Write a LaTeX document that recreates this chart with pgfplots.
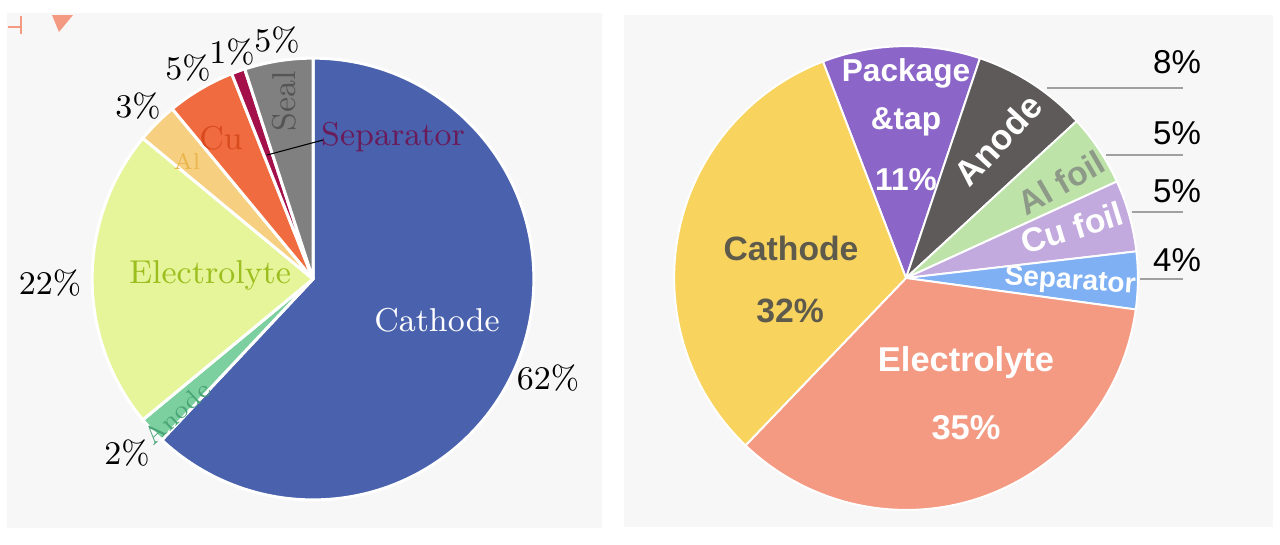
\documentclass[border=0pt]{standalone}
\usepackage{fontspec}
\usepackage{pgfplots}
\usepackage{pgfplotstable}
\pgfplotsset{compat=1.18}
\newfontfamily\arial{Liberation Sans}

% left pie colours
\definecolor{lcath}{HTML}{4A62AD}
\definecolor{lanode}{HTML}{7CCF9E}
\definecolor{lelec}{HTML}{E6F59A}
\definecolor{lal}{HTML}{F6CF80}
\definecolor{lcu}{HTML}{F06C40}
\definecolor{lsep}{HTML}{A3104A}
\definecolor{lseal}{HTML}{808080}
% right pie colours
\definecolor{rpack}{HTML}{8B65C7}
\definecolor{ranode}{HTML}{5E5A5A}
\definecolor{ral}{HTML}{BDE3A9}
\definecolor{rcu}{HTML}{C2A9DE}
\definecolor{rsep}{HTML}{7FB0F4}
\definecolor{relec}{HTML}{F49A82}
\definecolor{rcath}{HTML}{F8D35E}
\definecolor{panel}{HTML}{F7F7F7}
\definecolor{telec}{RGB}{156,190,30}
\definecolor{tanode}{RGB}{74,165,119}
\definecolor{tal}{RGB}{234,181,74}
\definecolor{tcu}{RGB}{217,74,31}
\definecolor{tseal}{RGB}{85,85,85}
\definecolor{tsep}{RGB}{106,27,90}
\definecolor{talfoil}{RGB}{142,154,136}
\definecolor{tcath}{RGB}{95,91,76}
\definecolor{leader}{RGB}{160,160,160}

% percentages, clockwise
\pgfplotstableread{
pct col
62 lcath
2  lanode
22 lelec
3  lal
5  lcu
1  lsep
5  lseal
}\lefttable
\pgfplotstableread{
pct col
11 rpack
8  ranode
5  ral
5  rcu
4  rsep
35 relec
32 rcath
}\righttable

% #1 cx, #2 cy (px), #3 radius (px), #4 percent, #5 colour, #6 border width
\newcommand\pieslice[6]{%
  \pgfmathsetmacro\aend{\astart-3.6*#4}%
  \pgfmathsetmacro\rr{#3*0.01}%
  \edef\tmp{\noexpand\fill[#5, draw=white, line width=#6, line join=round]
    (axis cs:#1,#2) -- ++(\astart:\rr cm)
    arc[start angle=\astart, end angle=\aend, radius=\rr cm] -- cycle;}%
  \tmp
  \global\let\astart\aend
}
\newcommand\drawpie[6]{% table, cx, cy, r, start, border
  \gdef\astart{#5}%
  \pgfplotsinvokeforeach{0,...,6}{%
    \pgfplotstablegetelem{##1}{pct}\of#1\let\pp\pgfplotsretval
    \pgfplotstablegetelem{##1}{col}\of#1\let\cc\pgfplotsretval
    \pieslice{#2}{#3}{#4}{\pp}{\cc}{#6}}%
}

\begin{document}
\begin{tikzpicture}[every node/.style={inner sep=0.5pt}]
\begin{axis}[
  scale only axis, width=12.8cm, height=5.44cm,
  xmin=0, xmax=1280, ymin=0, ymax=544, y dir=reverse,
  hide axis, clip=false]
  % backgrounds
  \fill[white] (axis cs:0,0) rectangle (axis cs:1280,544);
  \fill[panel] (axis cs:7,13) rectangle (axis cs:602,528);
  \fill[panel] (axis cs:624,15) rectangle (axis cs:1273,527);
  % corner fragment
  \fill[relec] (axis cs:52,15) -- (axis cs:73,15) -- (axis cs:59,32) -- cycle;
  \draw[relec, line width=0.55pt] (axis cs:8,27) -- (axis cs:21,27) -- (axis cs:21,34);
  \draw[relec, line width=0.55pt] (axis cs:21,16) -- (axis cs:21,27);

  % ---------- left pie ----------
  \drawpie{\lefttable}{313}{279}{221}{90}{0.85pt}
  \begin{scope}[font=\fontsize{9.4}{11}\selectfont]
  \node[white] at (axis cs:437,320) {Cathode};
  \node at (axis cs:548,378) {62\%};
  \node[telec] at (axis cs:210,275) {Electrolyte};
  \node at (axis cs:50,283) {22\%};
  \node[rotate=43, tanode, font=\fontsize{7.1}{8}\selectfont] at (axis cs:177,413) {Anode};
  \node at (axis cs:127,453) {2\%};
  \node[tal, font=\fontsize{6.5}{8}\selectfont] at (axis cs:187,161) {Al};
  \node at (axis cs:138,106) {3\%};
  \node[tcu] at (axis cs:221,138) {Cu};
  \node at (axis cs:188,68) {5\%};
  \node at (axis cs:232,52) {1\%};
  \node at (axis cs:277,40) {5\%};
  \node[rotate=90, tseal] at (axis cs:284,101) {Seal};
  \node[tsep] at (axis cs:393,137) {Separator};
  \end{scope}
  \draw[black, line width=0.3pt] (axis cs:267,155) -- (axis cs:323,140);

  % ---------- right pie ----------
  \drawpie{\righttable}{906}{278}{232}{111}{0.55pt}
  \begin{scope}[font=\arial\bfseries\fontsize{9}{11}\selectfont]
  \node[white] at (axis cs:906,73) {Package};
  \node[white] at (axis cs:906,122) {\&tap};
  \node[white] at (axis cs:906,180) {11\%};
  \node[white, rotate=47, font=\arial\bfseries\fontsize{10}{12}\selectfont] at (axis cs:998,140) {Anode};
  \node[rotate=30, talfoil, font=\arial\bfseries\fontsize{9.6}{12}\selectfont] at (axis cs:1061,183) {Al foil};
  \node[white, rotate=17, font=\arial\bfseries\fontsize{9.6}{12}\selectfont] at (axis cs:1072,228) {Cu foil};
  \node[white, rotate=-4, font=\arial\bfseries\fontsize{8}{10}\selectfont] at (axis cs:1070,282) {Separator};
  \node[tcath, font=\arial\bfseries\fontsize{9.6}{12}\selectfont] at (axis cs:791,248) {Cathode};
  \node[tcath, font=\arial\bfseries\fontsize{9.6}{12}\selectfont] at (axis cs:790,311) {32\%};
  \node[white, font=\arial\bfseries\fontsize{9.8}{12}\selectfont] at (axis cs:966,363) {Electrolyte};
  \node[white, font=\arial\bfseries\fontsize{9.8}{12}\selectfont] at (axis cs:966,428) {35\%};
  \end{scope}
  \begin{scope}[font=\arial\fontsize{9.4}{11}\selectfont]
  \node at (axis cs:1177,62) {8\%};
  \node at (axis cs:1177,133) {5\%};
  \node at (axis cs:1177,191) {5\%};
  \node at (axis cs:1177,260) {4\%};
  \end{scope}
  \begin{scope}[leader, line width=0.45pt]
  \draw (axis cs:1047,88) -- (axis cs:1183,88);
  \draw (axis cs:1106,155) -- (axis cs:1183,155);
  \draw (axis cs:1132,212) -- (axis cs:1183,212);
  \draw (axis cs:1140,279) -- (axis cs:1183,279);
  \end{scope}
\end{axis}
\end{tikzpicture}
\end{document}
